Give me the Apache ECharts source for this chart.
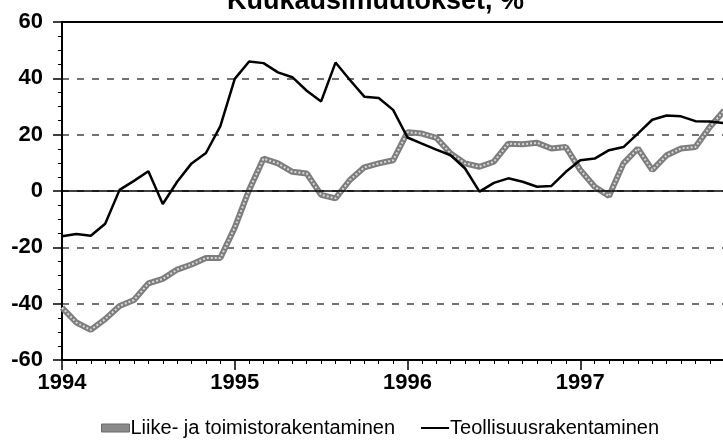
<!DOCTYPE html>
<html>
<head>
<meta charset="utf-8">
<script src="https://cdn.jsdelivr.net/npm/echarts@6/dist/echarts.min.js"></script>
<style>
  html, body { margin: 0; padding: 0; background: #fff; }
  #chart { width: 723px; height: 443px; }
</style>
</head>
<body>
<div id="chart"></div>
<script>
// kuukaudet tammikuu 1994 -> marraskuu 1997 (indeksi 0 = 1/1994)
const yearTicks = ['1994', '1995', '1996', '1997']

// Liike- ja toimistorakentaminen
const liike = [
  -41.4, -46.7, -49.3, -45.5, -40.8, -38.7, -32.8, -31.2, -27.9, -26.1, -23.8, -23.8,
  -13.0, 0.4, 11.5, 9.8, 6.8, 6.2, -1.4, -2.6, 3.9, 8.4, 9.8, 10.9,
  20.9, 20.4, 18.9, 13.3, 9.8, 8.6, 10.4, 16.8, 16.6, 17.1, 15.1, 15.6,
  7.5, 1.5, -1.8, 9.8, 15.1, 7.4, 12.7, 15.1, 15.6, 22.7, 28.6
]

// Teollisuusrakentaminen
const teollisuus = [
  -16.1, -15.3, -15.9, -11.6, 0.4, 3.6, 7.0, -4.6, 3.3, 9.8, 13.5, 23.0,
  39.8, 46.0, 45.4, 42.1, 40.4, 35.6, 31.8, 45.6, 39.4, 33.5, 33.0, 28.8,
  19.0, 16.8, 14.7, 12.7, 8.0, -0.2, 2.9, 4.5, 3.3, 1.5, 1.8, 6.8,
  10.9, 11.5, 14.5, 15.6, 20.4, 25.3, 26.8, 26.5, 24.8, 24.7, 24.1
]

const toPairs = arr => arr.map((v, i) => [i, v])

const font = "'Liberation Sans', Arial, sans-serif"

const chart = echarts.init(document.getElementById('chart'))

const option = {
  animation: false,
  backgroundColor: '#fff',
  title: {
    text: 'Kuukausimuutokset, %',
    left: 222,
    top: -17,
    textStyle: {
      fontFamily: font,
      fontWeight: 'bold',
      fontSize: 27,
      color: '#000'
    }
  },
  legend: {
    left: 96,
    top: 413,
    itemGap: 26,
    itemWidth: 28,
    itemHeight: 8,
    data: [
      {
        name: 'Liike- ja toimistorakentaminen',
        icon: 'rect',
        itemStyle: { color: '#8a8a8a', borderColor: '#6a6a6a', borderWidth: 1 }
      },
      {
        name: 'Teollisuusrakentaminen',
        // ohut viiva, laatikon reunapisteet pitävät mittasuhteet
        icon: 'path://M0,0L0.1,0L0.1,0.1Z M0,3L28,3L28,5L0,5Z M27.9,8L28,8L28,7.9Z',
        itemStyle: { color: '#000' }
      }
    ],
    textStyle: {
      fontFamily: font,
      fontSize: 20,
      color: '#000',
      padding: [0, 0, 0, -4]
    }
  },
  grid: {
    left: 62,
    top: 22,
    width: 691,
    bottom: 83,
    outerBoundsMode: 'none'
  },
  xAxis: [
    {
      type: 'value',
      min: 0,
      max: 48,
      interval: 12,
      position: 'bottom',
      axisLine: { show: true, onZero: false, lineStyle: { color: '#000', width: 2 } },
      axisTick: { show: true, length: 10, lineStyle: { color: '#000', width: 1.5 } },
      minorTick: { show: true, splitNumber: 12, length: 4, lineStyle: { color: '#000', width: 1 } },
      splitLine: { show: false },
      axisLabel: {
        margin: 12,
        fontFamily: font,
        fontWeight: 'bold',
        fontSize: 22,
        color: '#000',
        formatter: v => (v % 12 === 0 ? yearTicks[v / 12] || '' : '')
      }
    },
    {
      type: 'value',
      min: 0,
      max: 48,
      position: 'top',
      axisLine: { show: true, onZero: false, lineStyle: { color: '#000', width: 2 } },
      axisTick: { show: false },
      axisLabel: { show: false },
      splitLine: { show: false }
    }
  ],
  yAxis: {
    type: 'value',
    min: -60,
    max: 60,
    interval: 20,
    axisLine: { show: true, onZero: false, lineStyle: { color: '#000', width: 2 } },
    axisTick: { show: true, length: 9, lineStyle: { color: '#000', width: 1.5 } },
    minorTick: { show: true, splitNumber: 4, length: 4, lineStyle: { color: '#000', width: 1 } },
    splitLine: { show: true, lineStyle: { color: '#444', width: 1.5, type: [7, 8] } },
    axisLabel: {
      margin: 19,
      fontFamily: font,
      fontWeight: 'bold',
      fontSize: 22,
      color: '#000'
    }
  },
  series: [
    {
      name: 'Liike- ja toimistorakentaminen',
      type: 'line',
      data: toPairs(liike),
      showSymbol: false,
      symbol: 'none',
      color: '#7d7d7d',
      lineStyle: { color: '#7d7d7d', width: 6 },
      z: 3
    },
    {
      // kuvion "helmi"-pinta harmaan viivan päällä
      name: 'liike_pattern',
      type: 'line',
      data: toPairs(liike),
      showSymbol: false,
      symbol: 'none',
      silent: true,
      lineStyle: { color: '#d8d8d8', width: 2, type: [2, 2] },
      z: 4
    },
    {
      name: 'Teollisuusrakentaminen',
      type: 'line',
      data: toPairs(teollisuus),
      showSymbol: false,
      symbol: 'none',
      color: '#000',
      lineStyle: { color: '#000', width: 2.5 },
      z: 5,
      markLine: {
        silent: true,
        symbol: 'none',
        label: { show: false },
        lineStyle: { color: '#000', width: 1.5, type: 'solid' },
        data: [{ yAxis: 0 }]
      }
    }
  ]
}

chart.setOption(option)
</script>
</body>
</html>
